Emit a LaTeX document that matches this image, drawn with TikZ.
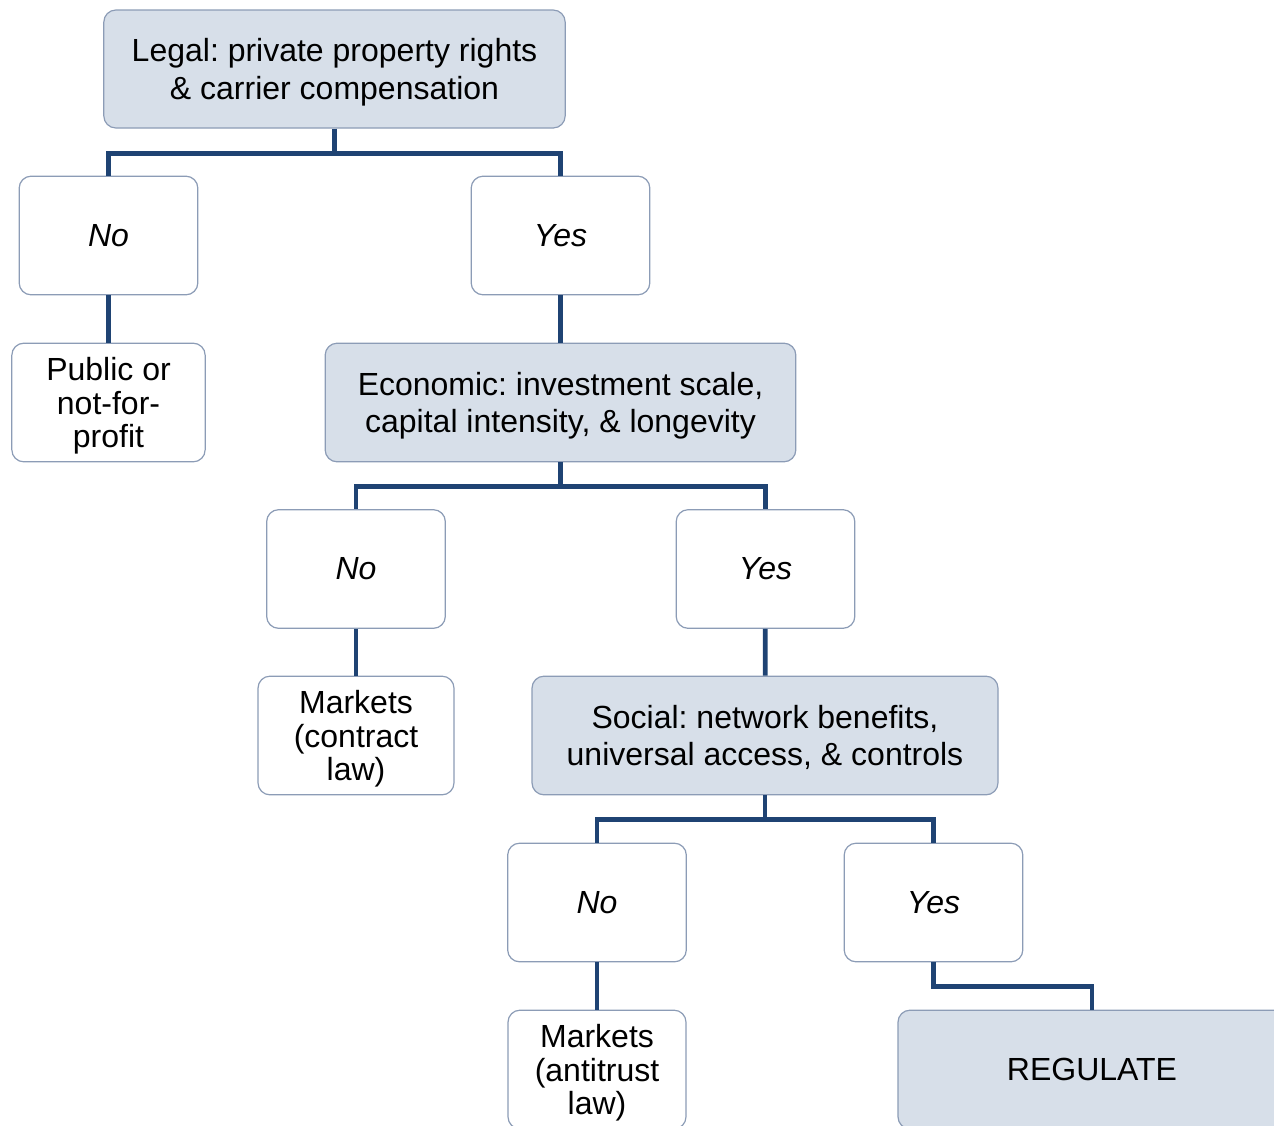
\documentclass[tikz,border=0pt]{standalone}
\usepackage{fontspec}
\setmainfont{Liberation Sans}
\usepackage{tikz}
\usetikzlibrary{positioning}
\frenchspacing

\definecolor{boxfill}{HTML}{D7DFE9}
\definecolor{boxline}{HTML}{8C9CB6}
\definecolor{treeline}{HTML}{1F4373}

\tikzset{
  basebox/.style={draw=boxline, line width=0.9pt, rounded corners=9pt, align=center,
    font=\fontsize{24}{27}\selectfont, inner sep=2pt},
  question/.style={basebox, fill=boxfill, font=\fontsize{24}{28}\selectfont, text depth=0pt},
  answer/.style={basebox, fill=white, font=\fontsize{24}{27}\selectfont\itshape,
    minimum width=134pt, minimum height=89pt},
  outcome/.style={basebox, fill=white, minimum height=89pt,
    font=\fontsize{24}{25}\selectfont, text depth=0pt},
  branch/.style={treeline, line width=3.6pt}
}

\begin{document}
\begin{tikzpicture}[x=0.75pt, y=-0.75pt]
\useasboundingbox (0,0) rectangle (1274,1125);
\clip (0,0) rectangle (1274,1125);

% legal test
\node[question, minimum width=346pt, minimum height=88.5pt] (legal) at (334.5,69)
  {Legal: private property rights\\\& carrier compensation};
\node[answer] (no1) at (108.5,235.5) {No};
\node[answer] (yes1) at (560.5,235.5) {Yes};
\node[outcome, minimum width=145pt] (public) at (108.5,402.5) {Public or\\not-for-\\profit};

% economic test
\node[question, minimum width=353pt, minimum height=89pt] (econ) at (560.5,402.5)
  {Economic: investment scale,\\capital intensity, \& longevity};
\node[answer] (no2) at (356,569) {No};
\node[answer] (yes2) at (765.5,569) {Yes};
\node[outcome, minimum width=147pt] (contract) at (356,735.5) {Markets\\(contract\\law)};

% social test
\node[question, minimum width=349.5pt, minimum height=89pt] (social) at (765,735.5)
  {Social: network benefits,\\universal access, \& controls};
\node[answer] (no3) at (597,902.5) {No};
\node[answer] (yes3) at (933.5,902.5) {Yes};
\node[outcome, minimum width=133.5pt] (antitrust) at (597,1069.5) {Markets\\(antitrust\\law)};
\node[question, minimum width=291pt, minimum height=89pt] (regulate) at (1092,1069.5) {REGULATE};

% tree lines
\draw[branch] (legal.south) -- ++(0,25) coordinate (j1);
\draw[branch] (j1) -| (no1.north);
\draw[branch] (j1) -| (yes1.north);
\draw[branch] (no1) -- (public);
\draw[branch] (yes1) -- (econ);

\draw[branch] (econ.south) -- ++(0,24) coordinate (j2);
\draw[branch] (j2) -| (no2.north);
\draw[branch] (j2) -| (yes2.north);
\draw[branch] (no2) -- (contract);
\draw[branch] (yes2) -- (social);

\draw[branch] (social.south) -- ++(0,24) coordinate (j3);
\draw[branch] (j3) -| (no3.north);
\draw[branch] (j3) -| (yes3.north);
\draw[branch] (no3) -- (antitrust);
\draw[branch] (yes3.south) -- ++(0,24) -| (regulate.north);
\end{tikzpicture}
\end{document}
